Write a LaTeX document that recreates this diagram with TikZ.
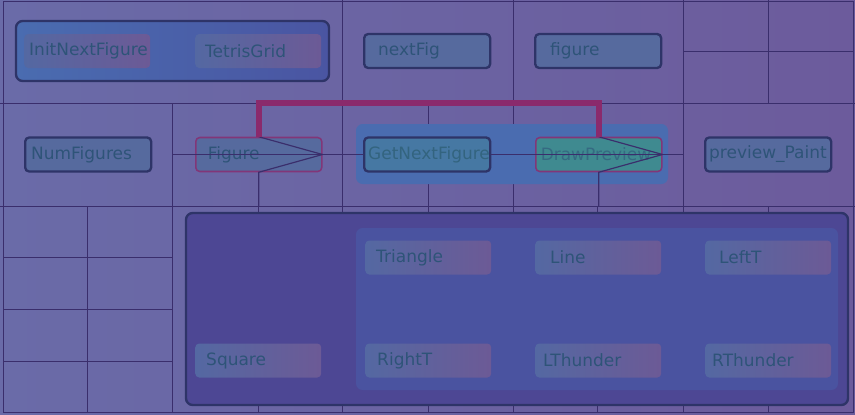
\documentclass[tikz,border=0pt]{standalone}
\usepackage{fontspec}
\setmainfont{DejaVu Sans}
\begin{document}
\begin{tikzpicture}[x=0.03cm,y=-0.03cm]
% Couleurs
\definecolor{fond}{HTML}{6C5B9C}
\definecolor{fondclair}{HTML}{6A6BA8}
\definecolor{trait}{HTML}{3A2E6C}
\definecolor{bord}{HTML}{2E3468}
\definecolor{texte}{HTML}{2E5478}
\definecolor{rouge}{HTML}{8A2A6C}
\definecolor{case}{HTML}{566A9E}
\definecolor{caseclaire}{HTML}{5468A2}
\definecolor{rose}{HTML}{6C5A96}
\definecolor{bleu}{HTML}{4A55A2}
\definecolor{bleuclair}{HTML}{4A6CB0}
\definecolor{violet}{HTML}{4D4794}
\definecolor{turquoise}{HTML}{3F8A90}
% Styles
\tikzstyle{grille}=[draw=trait,line width=0.75pt]
\tikzstyle{boite}=[anchor=west,rectangle,rounded corners=0.12cm,minimum height=1.02cm,
  font=\fontsize{14.5}{17}\selectfont,text=texte,align=left]
\tikzstyle{noeud}=[boite,draw=bord,line width=2pt,fill=case]
\tikzstyle{noeudrouge}=[boite,draw=rouge!75!fond,line width=1.3pt,fill=case]
\tikzstyle{feuille}=[boite,left color=caseclaire,right color=rose]
\tikzstyle{groupe}=[rounded corners=0.2cm,draw=bord,line width=2pt]
\tikzstyle{fleche}=[draw=trait,line width=1pt]
\tikzstyle{appel}=[draw=rouge,line width=5pt]
\tikzset{retrait/.code={\pgfmathsetmacro\Largeur{(126-2*#1)*0.03}\pgfmathsetmacro\Marge{#1*0.03}%
  \pgfkeysalso{/tikz/inner xsep=\Marge cm,/tikz/text width=\Largeur cm}}}
% Fond et grille
\useasboundingbox (0,0) rectangle (855,415);
\fill[left color=fondclair,right color=fond] (0,0) rectangle (855,415);
\draw[grille] (3,1) rectangle (853,412);
\draw[grille] (0,103) -- (855,103) (0,206) -- (855,206);
\draw[grille] (342,0) -- (342,206) (513,0) -- (513,206) (683,0) -- (683,206);
\draw[grille] (768,0) -- (768,103) (683,51) -- (853,51);
\draw[grille] (172,103) -- (172,412) (87,206) -- (87,412) (428,103) -- (428,206);
\foreach \y in {257,309,361} \draw[grille] (3,\y) -- (172,\y);
\foreach \x in {258,342,428,513,597,683,768} \draw[grille] (\x,206) -- (\x,412);
% Groupes
\draw[groupe,left color=bleuclair,right color=bleu] (16,21) rectangle (329,81);
\fill[bleuclair,rounded corners=0.2cm] (356,124) rectangle (668,184);
\draw[groupe,fill=violet] (186,213) rectangle (848,405);
\fill[bleu!85!violet,rounded corners=0.2cm] (356,228) rectangle (838,390);
% Noeuds
\node[feuille,retrait=5] (InitNextFigure) at (24,51) {InitNextFigure};
\node[feuille,retrait=10] (TetrisGrid) at (195,51) {TetrisGrid};
\node[noeud,retrait=14] (nextFig) at (363,51) {nextFig};
\node[noeud,retrait=15] (figure) at (534,51) {figure};
\node[noeud,retrait=6] (NumFigures) at (24,154.5) {NumFigures};
\node[noeudrouge,retrait=12] (Figure) at (195,154.5) {Figure};
\node[noeud,retrait=4,fill=bleuclair!60!turquoise,text=texte!70!turquoise] (GetNextFigure) at (363,154.5) {GetNextFigure};
\node[noeudrouge,retrait=5,fill=turquoise,text=texte!60!turquoise] (DrawPreview) at (535,154.5) {DrawPreview};
\node[noeud,retrait=4] (previewPaint) at (704,154.5) {preview\_Paint};
\node[feuille,retrait=11] (Triangle) at (365,257.5) {Triangle};
\node[feuille,retrait=15] (Line) at (535,257.5) {Line};
\node[feuille,retrait=14] (LeftT) at (705,257.5) {LeftT};
\node[feuille,retrait=11] (Square) at (195,360.5) {Square};
\node[feuille,retrait=12] (RightT) at (365,360.5) {RightT};
\node[feuille,retrait=8] (LThunder) at (535,360.5) {LThunder};
\node[feuille,retrait=7] (RThunder) at (705,360.5) {RThunder};
% Arcs
\coordinate (E) at (172,154.5);
\coordinate (S) at (683,154.5);
\draw[fleche] (E) -- (GetNextFigure.west);
\draw[fleche] (GetNextFigure.east) -- (S);
\draw[fleche] (Figure.north) -- (Figure.east) -- (Figure.south) -- ++(0,34);
\draw[fleche] (DrawPreview.north) -- (DrawPreview.east) -- (DrawPreview.south) -- ++(0,34);
\draw[appel] (Figure.north) -- ++(0,-34) -| (DrawPreview.north);
\end{tikzpicture}
\end{document}
